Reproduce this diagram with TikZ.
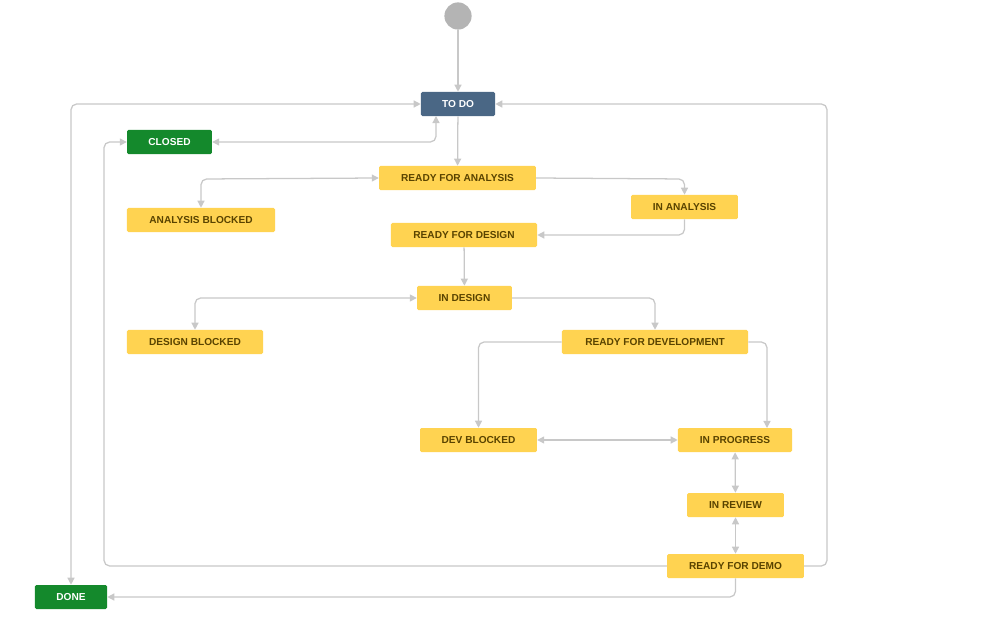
\documentclass[tikz,border=0pt]{standalone}
\usepackage{fontspec}
\setmainfont{Liberation Sans}
\usetikzlibrary{arrows.meta, positioning}
\definecolor{todoblue}{HTML}{4A6785}
\definecolor{donegreen}{HTML}{14892C}
\definecolor{progyellow}{HTML}{FFD351}
\definecolor{progtext}{HTML}{594300}
\definecolor{linkgray}{HTML}{C8C8C8}
\tikzset{
    status/.style={rectangle, rounded corners=1pt, minimum height=0.6cm, inner sep=0pt,
        font=\fontsize{7.2}{8}\selectfont\bfseries},
    yellowbox/.style={status, fill=progyellow, text=progtext},
    bluebox/.style={status, fill=todoblue, text=white},
    greenbox/.style={status, fill=donegreen, text=white},
    link/.style={draw=linkgray, line width=0.9pt, rounded corners=4pt, -{Triangle[length=5pt,width=5pt]}},
    blink/.style={link, {Triangle[length=5pt,width=5pt]}-{Triangle[length=5pt,width=5pt]}},
}
\begin{document}
\begin{tikzpicture}[x=0.025cm, y=-0.025cm]
    \useasboundingbox (0,0) rectangle (998,623);

    % Start point
    \node[circle, fill=linkgray!90!black, minimum size=0.68cm, inner sep=0pt] (start) at (458,16) {};

    % Statuses
    \node[bluebox, minimum width=1.85cm] (todo) at (458,104) {TO DO};
    \node[greenbox, minimum width=2.12cm] (closed) at (169.5,142) {CLOSED};
    \node[yellowbox, minimum width=3.92cm] (rfa) at (457.5,178) {READY FOR ANALYSIS};
    \node[yellowbox, minimum width=3.7cm] (ablocked) at (201,220) {ANALYSIS BLOCKED};
    \node[yellowbox, minimum width=2.67cm] (inanalysis) at (684.5,207) {IN ANALYSIS};
    \node[yellowbox, minimum width=3.65cm] (rfd) at (464,235) {READY FOR DESIGN};
    \node[yellowbox, minimum width=2.37cm] (indesign) at (464.5,298) {IN DESIGN};
    \node[yellowbox, minimum width=3.4cm] (dblocked) at (195,342) {DESIGN BLOCKED};
    \node[yellowbox, minimum width=4.65cm] (rfdev) at (655,342) {READY FOR DEVELOPMENT};
    \node[yellowbox, minimum width=2.92cm] (devblocked) at (478.5,440) {DEV BLOCKED};
    \node[yellowbox, minimum width=2.85cm] (inprogress) at (735,440) {IN PROGRESS};
    \node[yellowbox, minimum width=2.42cm] (inreview) at (735.5,505) {IN REVIEW};
    \node[yellowbox, minimum width=3.42cm] (rfdemo) at (735.5,566) {READY FOR DEMO};
    \node[greenbox, minimum width=1.8cm] (done) at (71,597) {DONE};

    % Transitions
    \draw[link] (start) -- (todo);
    \draw[link] (todo) -- (rfa);
    \draw[blink] (closed.east) -- (436,142) -- (436,116);
    \draw[blink] (todo.west) -- (71,104) -- (done.north);
    \draw[link] (rfdemo.east) -- (827,566) -- (827,104) -- (todo.east);
    \draw[blink] (rfa.west) -- (201,179) -- (ablocked.north);
    \draw[link] (rfa.east) -- (684.5,179) -- (inanalysis.north);
    \draw[link] (inanalysis.south) -- (684.5,235) -- (rfd.east);
    \draw[link] (rfd) -- (indesign);
    \draw[blink] (indesign.west) -- (195,298) -- (dblocked.north);
    \draw[link] (indesign.east) -- (655,298) -- (rfdev.north);
    \draw[link] (rfdev.west) -- (478.5,342) -- (devblocked.north);
    \draw[link] (rfdev.east) -- (767,342) -- (767,428);
    \draw[blink] (devblocked) -- (inprogress);
    \draw[blink] (inprogress) -- (inreview);
    \draw[blink] (inreview) -- (rfdemo);
    \draw[link] (rfdemo.west) -- (104,566) -- (104,142) -- (closed.west);
    \draw[link] (rfdemo.south) -- (735.5,597) -- (done.east);
\end{tikzpicture}
\end{document}
